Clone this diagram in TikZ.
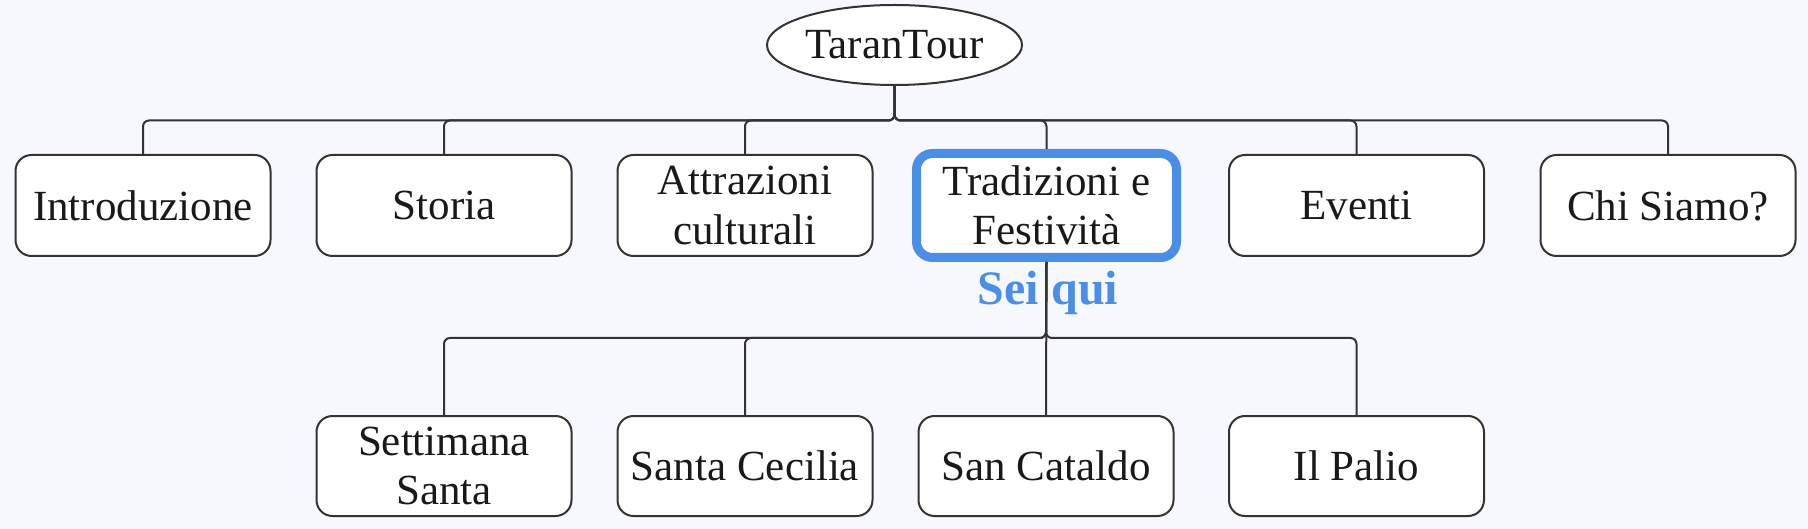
\documentclass[tikz,border=0pt]{standalone}
\usepackage{fontspec}
\setmainfont{Liberation Serif}
\usetikzlibrary{shapes.geometric}
\definecolor{bgcol}{HTML}{F7F7FE}
\definecolor{linecol}{HTML}{333333}
\definecolor{hiblue}{HTML}{4A8FE5}
\begin{document}
\begin{tikzpicture}[x=1pt,y=-1pt,
  box/.style={draw=linecol, line width=2pt, fill=white, rounded corners=16pt,
    minimum width=255pt, minimum height=101pt, inner sep=0pt, align=center,
    font=\fontsize{43}{49.5}\selectfont, text=black!90},
  hibox/.style={draw=hiblue, line width=9pt, fill=white, rounded corners=16pt,
    minimum width=260pt, minimum height=104pt, inner sep=0pt, align=center,
    font=\fontsize{43}{49.5}\selectfont, text=black!90},
  rootnode/.style={draw=linecol, line width=2pt, fill=white, ellipse,
    minimum width=255pt, minimum height=80pt, inner sep=0pt,
    font=\fontsize{43}{49.5}\selectfont, text=black!90},
  conn/.style={draw=linecol, line width=2pt, rounded corners=6pt},
  here/.style={text=hiblue, font=\fontsize{48}{52}\selectfont\bfseries, inner sep=0pt}
]
\fill[bgcol] (0,0) rectangle (1808,529);
\useasboundingbox (0,0) rectangle (1808,529);

\node[rootnode] (root) at (894.5,45) {TaranTour};

\node[box] (intro) at (143,205.5) {Introduzione};
\node[box] (storia) at (444,205.5) {Storia};
\node[box] (attr) at (745,205.5) {Attrazioni\\culturali};
\node[hibox] (trad) at (1046.5,205.5) {Tradizioni e\\Festività};
\node[box] (eventi) at (1356.5,205.5) {Eventi};
\node[box] (chi) at (1668,205.5) {Chi Siamo?};

\node[box, minimum height=100pt] (sett) at (444,466) {Settimana\\Santa};
\node[box, minimum height=100pt] (cec) at (745,466) {Santa Cecilia};
\node[box, minimum height=100pt] (cat) at (1046,466) {San Cataldo};
\node[box, minimum height=100pt] (palio) at (1356.5,466) {Il Palio};

\node[here, anchor=base] (sei) at (1048,305) {Sei qui};

\coordinate (b1) at (894.5,120.5);
\coordinate (b2) at (1046,338);

\foreach \c in {intro,storia,attr,trad,eventi,chi}
  \draw[conn] (root.south) -- (b1) -| (\c.north);

\foreach \c in {sett,cec,palio}
  \draw[conn] (trad.south) -- (b2) -| (\c.north);
\draw[conn] (trad.south) -- (cat.north);
\end{tikzpicture}
\end{document}
